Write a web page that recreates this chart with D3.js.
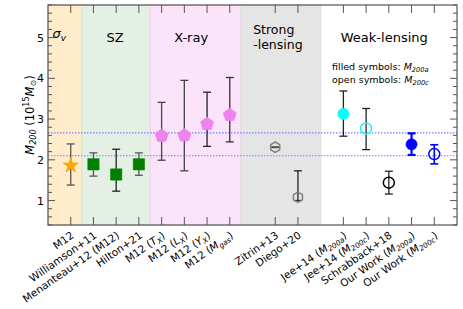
<!DOCTYPE html>
<html><head><meta charset="utf-8">
<script src="https://cdn.jsdelivr.net/npm/d3@7"></script>
<style>body{margin:0;background:#fff;} text{font-family:"DejaVu Sans",sans-serif;}</style>
</head><body>
<svg id="c" width="463" height="309"></svg>
<script>
// ---- data ----
const categories = ["M12","Williamson+11","Menanteau+12 (M12)","Hilton+21","M12 (_T_{X})","M12 (_L_{X})","M12 (_Y_{X})","M12 (_M_{gas})","Zitrin+13","Diego+20","Jee+14 (_M_{200a})","Jee+14 (_M_{200c})","Schrabback+18","Our Work (_M_{200a})","Our Work (_M_{200c})"];
const slots = [0,1,2,3,4,5,6,7,9,10,12,13,14,15,16];
const mass = [1.86,1.89,1.64,1.89,2.59,2.60,2.88,3.10,2.31,1.08,3.13,2.77,1.44,2.38,2.14];
const massHi = [2.39,2.17,2.26,2.17,3.41,3.95,3.66,4.02,2.32,1.73,3.69,3.26,1.72,2.65,2.37];
const massLo = [1.38,1.60,1.23,1.62,1.99,1.73,2.33,2.44,2.30,1.00,2.58,2.25,1.16,2.12,1.90];
const refLines = [2.66, 2.10];
const bands = [[-1,0.5],[0.5,3.5],[3.5,7.5],[7.5,11]];
const bandNames = ["σv","SZ","X-ray","Strong -lensing","Weak-lensing"];
const yTicks = [1,2,3,4,5];

// ---- styles ----
const markerType = ["star","square","square","square","pent","pent","pent","pent","hex","hex","circle","circle","circle","circle","circle"];
const markerColor = ["#ffa500","#008000","#008000","#008000","#ee82ee","#ee82ee","#ee82ee","#ee82ee","#808080","#808080","#00ffff","#00ffff","#000000","#0000ff","#0000ff"];
const markerFilled = [1,1,1,1,1,1,1,1,0,0,1,0,0,1,0];
const errColor = ["#555","#555","#222","#555","#444","#444","#222","#333","#555","#222","#222","#222","#222","#0000ff","#0000ff"];
const errWidth = [1.3,1.3,1.3,1.3,1.3,1.3,1.3,1.3,1.3,1.3,1.3,1.3,1.3,2.2,1.6];
const bandFill = ["#ffecca","#e4f0e4","#fbe4f9","#e5e5e5"];
const bandEdge = ["#f2dcb5","#d6e6d6","#f0d2ee","#dcdcdc"];

const svg = d3.select("#c");
const L=48, R=457, T=5, B=225;
const x = d3.scaleLinear().domain([-1,17]).range([L,R]);
const y = d3.scaleLinear().domain([0.4,5.8]).range([B,T]);

// bands
svg.selectAll("rect.band").data(bands).enter().append("rect")
  .attr("x",d=>x(d[0])).attr("width",d=>x(d[1])-x(d[0]))
  .attr("y",T).attr("height",B-T)
  .attr("fill",(d,i)=>bandFill[i]).attr("stroke",(d,i)=>bandEdge[i]).attr("stroke-width",1);

// ref lines
svg.selectAll("line.ref").data(refLines).enter().append("line")
  .attr("x1",L).attr("x2",R).attr("y1",d=>y(d)).attr("y2",d=>y(d))
  .attr("stroke","#7b7bff").attr("stroke-width",1.2).attr("stroke-dasharray","1.5,1.5");

// band labels
const g = svg.append("g");
g.append("text").attr("x",x(-0.5)).attr("y",y(5.0)).attr("font-size",13).attr("font-style","italic").attr("text-anchor","middle")
  .text("σ").append("tspan").attr("font-size",9).attr("dy",3).text("v");
g.append("text").attr("x",x(1.95)).attr("y",y(4.9)).attr("font-size",13).attr("text-anchor","middle").text(bandNames[1]);
g.append("text").attr("x",x(5.3)).attr("y",y(4.9)).attr("font-size",13).attr("text-anchor","middle").text(bandNames[2]);
g.append("text").attr("x",x(8.03)).attr("y",y(5.08)).attr("font-size",12.5).text("Strong");
g.append("text").attr("x",x(8.03)).attr("y",y(4.72)).attr("font-size",12.5).text("-lensing");
g.append("text").attr("x",x(13.8)).attr("y",y(4.9)).attr("font-size",13).attr("text-anchor","middle").text(bandNames[4]);
function labelWithSub(sel, pre, it, sub){
  sel.append("tspan").text(pre);
  sel.append("tspan").attr("font-style","italic").text(it);
  sel.append("tspan").attr("font-style","italic").attr("font-size","0.7em").attr("dy",2).text(sub);
}
labelWithSub(g.append("text").attr("x",x(11.5)).attr("y",y(4.2)).attr("font-size",9.5),"filled symbols: ","M","200a");
labelWithSub(g.append("text").attr("x",x(11.5)).attr("y",y(3.88)).attr("font-size",9.5),"open symbols: ","M","200c");

// error bars
const eb = svg.append("g");
categories.forEach((c,i)=>{
  const xx = x(slots[i]);
  const col = errColor[i], w = errWidth[i];
  eb.append("line").attr("x1",xx).attr("x2",xx).attr("y1",y(massLo[i])).attr("y2",y(massHi[i])).attr("stroke",col).attr("stroke-width",w);
  [massLo[i],massHi[i]].forEach(v=>{
    eb.append("line").attr("x1",xx-4).attr("x2",xx+4).attr("y1",y(v)).attr("y2",y(v)).attr("stroke",col).attr("stroke-width",w);
  });
});

// markers
function polyPath(n, r, rot){
  const pts=[];
  for(let k=0;k<n;k++){const a=rot+2*Math.PI*k/n; pts.push([r*Math.sin(a),-r*Math.cos(a)]);}
  return "M"+pts.map(p=>p.join(",")).join("L")+"Z";
}
const mk = svg.append("g");
categories.forEach((c,i)=>{
  let p;
  const t = markerType[i];
  if(t==="star") p = d3.symbol(d3.symbolStar, 70)();
  else if(t==="square") p = d3.symbol(d3.symbolSquare, 130)();
  else if(t==="pent") p = polyPath(5,6.8,0);
  else if(t==="hex") p = polyPath(6,5.2,0);
  else p = d3.symbol(d3.symbolCircle, 95)();
  const f = markerFilled[i];
  mk.append("path").attr("d",p).attr("transform",`translate(${x(slots[i])},${y(mass[i])})`)
    .attr("fill", f?markerColor[i]:"none")
    .attr("stroke", markerColor[i]).attr("stroke-width", f?0.8:1.5)
    .attr("stroke-opacity", t==="square"?0.6:1);
});

// axes frame
svg.append("rect").attr("x",L).attr("y",T).attr("width",R-L).attr("height",B-T).attr("fill","none").attr("stroke","#555").attr("stroke-width",1.2);

// y ticks (both sides, inward)
const minor = d3.range(0.4,5.81,0.2).map(v=>+v.toFixed(1));
const ax = svg.append("g");
minor.forEach(v=>{
  const major = yTicks.includes(v);
  const len = major?7:4;
  ax.append("line").attr("x1",L).attr("x2",L+len).attr("y1",y(v)).attr("y2",y(v)).attr("stroke","#555");
  ax.append("line").attr("x1",R).attr("x2",R-len).attr("y1",y(v)).attr("y2",y(v)).attr("stroke","#555");
});
yTicks.forEach(v=>{
  ax.append("text").attr("x",L-4).attr("y",y(v)+4).attr("text-anchor","end").attr("font-size",11).text(v);
});
// x ticks (top & bottom, inward)
slots.forEach(s=>{
  ax.append("line").attr("x1",x(s)).attr("x2",x(s)).attr("y1",B).attr("y2",B-8).attr("stroke","#555");
  ax.append("line").attr("x1",x(s)).attr("x2",x(s)).attr("y1",T).attr("y2",T+8).attr("stroke","#555");
});
// x tick labels rotated
categories.forEach((c,i)=>{
  const t = ax.append("text").attr("transform",`translate(${x(slots[i])+4},${B+12}) rotate(-35)`)
    .attr("text-anchor","end").attr("font-size",10.5);
  const m = c.match(/^(.*)\(_(\w)_\{(\w+)\}\)$/);
  if(m){
    t.append("tspan").text(m[1]+"(");
    t.append("tspan").attr("font-style","italic").text(m[2]);
    t.append("tspan").attr("font-style","italic").attr("font-size","0.7em").attr("dy",2).text(m[3]);
    t.append("tspan").attr("dy",-2).text(")");
  } else t.text(c);
});

// y label
const yl = svg.append("text").attr("transform",`translate(34,${(T+B)/2}) rotate(-90)`).attr("text-anchor","middle").attr("font-size",11.5);
yl.append("tspan").attr("font-style","italic").text("M");
yl.append("tspan").attr("font-size","0.7em").attr("dy",2).attr("font-style","italic").text("200");
yl.append("tspan").attr("dy",-2).text(" (10");
yl.append("tspan").attr("font-size","0.7em").attr("dy",-5).text("15");
yl.append("tspan").attr("dy",5).attr("font-style","italic").text("M");
yl.append("tspan").attr("font-size","0.7em").attr("dy",2).text("⊙");
yl.append("tspan").attr("dy",-2).text(")");
</script>
</body></html>
